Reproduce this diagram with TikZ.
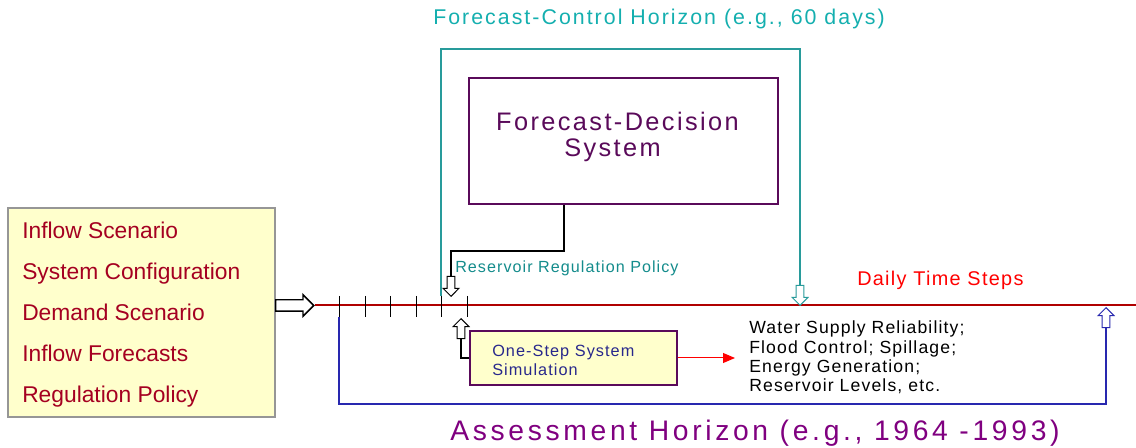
\documentclass[tikz,border=0pt]{standalone}
\usepackage{fontspec}
\setmainfont{Liberation Sans}
\newfontfamily\widefont[LetterSpace=9.5]{Liberation Sans}
\newfontfamily\spacedfont[LetterSpace=6.5]{Liberation Sans}
\newfontfamily\assessfont[LetterSpace=13]{Liberation Sans}
\usepackage{xcolor}
\usetikzlibrary{shapes.arrows, arrows.meta}

\definecolor{listred}{RGB}{165,0,33}
\definecolor{inboxfill}{RGB}{255,255,204}
\definecolor{inboxgray}{RGB}{150,150,150}
\definecolor{timered}{RGB}{176,0,0}
\definecolor{horizonteal}{RGB}{40,155,155}
\definecolor{titleteal}{RGB}{20,175,175}
\definecolor{policyteal}{RGB}{20,140,140}
\definecolor{assessblue}{RGB}{40,40,175}
\definecolor{assesspurple}{RGB}{128,0,128}
\definecolor{fdspurple}{RGB}{90,10,90}
\definecolor{ossnavy}{RGB}{40,40,140}

\begin{document}
\begin{tikzpicture}[x=0.75pt, y=-0.75pt,
    hollowarrow/.style={single arrow, draw=black, fill=white, line width=0.75pt,
        inner xsep=0pt, inner ysep=2.6pt, minimum height=15pt, minimum width=11.25pt,
        single arrow head extend=3pt},
    bigarrow/.style={hollowarrow, line width=1.1pt, inner ysep=3.75pt,
        minimum height=28.5pt, minimum width=15pt, single arrow head extend=3.75pt},
    listitem/.style={anchor=base west, inner sep=0pt, text=listred,
        font=\fontsize{17.1}{20}\selectfont},
    tick/.style={black, line width=0.75pt},
    timeline/.style={timered, line width=1.5pt}]
    \useasboundingbox[fill=white] (0,0) rectangle (1136,448);

    % inputs on the left
    \node[draw=inboxgray, fill=inboxfill, line width=1.5pt, inner sep=0pt,
        minimum width=200.25pt, minimum height=156.75pt] (inputs) at (141.5,312.5) {};
    \foreach \txt [count=\i] in {Inflow Scenario, System Configuration, Demand Scenario,
        Inflow Forecasts, Regulation Policy}
        \node[listitem] (item\i) at (22, 239+41*\i-41) {\txt};

    % time axis
    \node[bigarrow, anchor=tail] (feedarrow) at (275,305.5) {};
    \coordinate (lineend) at (1136,305.5);
    \draw[timeline] (feedarrow.tip) -- (lineend);
    \foreach \x [count=\i] in {339,365,390,416,441,467} {
        \draw[tick] (\x,296) -- (\x,317);
        \coordinate (top\i) at (\x,296);
        \coordinate (bot\i) at (\x,317);
    }
    \node[anchor=base west, inner sep=0pt, text=red,
        font=\spacedfont\fontsize{14.9}{17}\selectfont] (steps) at (857,286) {Daily Time Steps};

    % forecast-control horizon
    \node[hollowarrow, draw=horizonteal, rotate=-90, anchor=tip] (tealarrow) at (800,306) {};
    \coordinate (tealcorner) at (441,49);
    \draw[horizonteal, line width=0.9pt] (top5) -- (tealcorner) -| (tealarrow.tail);
    \node[anchor=base west, inner sep=0pt, text=titleteal,
        font=\widefont\fontsize{16}{18}\selectfont] (title) at (433,25)
        {Forecast-Control Horizon (e.g., 60 days)};

    \node[draw=fdspurple, line width=1.5pt, inner sep=0pt,
        minimum width=231.75pt, minimum height=94.5pt] (fds) at (623.5,141) {};
    \node[anchor=base, inner sep=0pt, text=fdspurple,
        font=\widefont\fontsize{19}{22}\selectfont] (fdsline1) at (617.5,131) {Forecast-Decision};
    \node[anchor=base, inner sep=0pt, text=fdspurple,
        font=\widefont\fontsize{19}{22}\selectfont] (fdsline2) at (612.5,157) {System};

    \node[hollowarrow, rotate=-90, anchor=tip] (policyarrow) at (451,297) {};
    \draw[black, line width=0.9pt] (fds.south west) ++(96,0) -- ++(0,46) -| (policyarrow.tail);
    \node[anchor=base west, inner sep=0pt, text=policyteal,
        font=\spacedfont\fontsize{12.1}{14}\selectfont] (policy) at (455,273)
        {Reservoir Regulation Policy};

    % one-step simulation
    \node[draw=fdspurple, fill=inboxfill, line width=1.5pt, inner sep=0pt,
        minimum width=155.25pt, minimum height=40.5pt] (oss) at (573.5,358) {};
    \node[anchor=base west, inner sep=0pt, text=ossnavy,
        font=\spacedfont\fontsize{12.2}{14}\selectfont] (ossline1) at (492,357) {One-Step System};
    \node[anchor=base west, inner sep=0pt, text=ossnavy,
        font=\spacedfont\fontsize{12.2}{14}\selectfont] (ossline2) at (492,376) {Simulation};
    \node[hollowarrow, rotate=90, anchor=tip] (ossarrow) at (461,318) {};
    \draw[black, line width=0.9pt] (oss.west) -| (ossarrow.tail);

    \node[anchor=west, inner sep=0pt, align=left,
        font=\spacedfont\fontsize{13.2}{14.6}\selectfont] (results) at (749,357.5)
        {Water Supply Reliability;\\Flood Control; Spillage;\\Energy Generation;\\Reservoir Levels, etc.};
    \draw[red, line width=0.75pt, -{Triangle[length=9pt, width=7.5pt]}, shorten >=10.5pt]
        (oss.east) -- (oss.east -| results.west);

    % assessment horizon
    \node[hollowarrow, draw=assessblue, rotate=90, anchor=tip] (bluearrow) at (1106,307) {};
    \coordinate (assesscorner) at (339,404);
    \draw[assessblue, line width=0.9pt] (bot1) -- (assesscorner) -| (bluearrow.tail);
    \node[anchor=base west, inner sep=0pt, text=assesspurple,
        font=\assessfont\fontsize{21.2}{25}\selectfont] (assess) at (450,441)
        {Assessment Horizon (e.g., 1964 -1993)};
\end{tikzpicture}
\end{document}
